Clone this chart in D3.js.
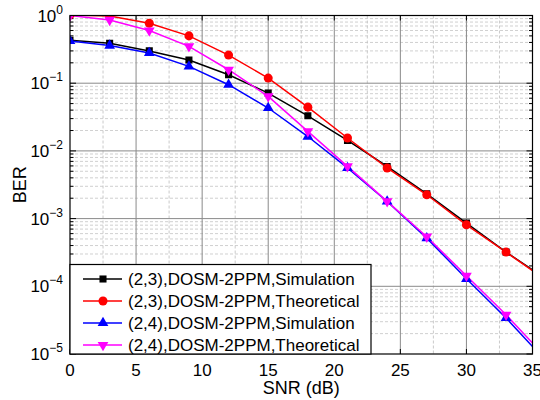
<!DOCTYPE html>
<html>
<head>
<meta charset="utf-8">
<script src="https://cdn.jsdelivr.net/npm/d3@7"></script>
<style>
  body { margin: 0; background: #fff; }
  text { font-family: "Liberation Sans", Arial, sans-serif; }
</style>
</head>
<body>
<div id="wrapper"></div>
<script>
// data
const snr = [0, 3, 6, 9, 12, 15, 18, 21, 24, 27, 30, 33, 35]
const sim23 = [0.43, 0.39, 0.30, 0.22, 0.133, 0.0714, 0.033, 0.0143, 0.0059, 0.00232, 8.6e-4, 3.2e-4, 1.75e-4]
const theo23 = [1.02, 0.98, 0.77, 0.50, 0.26, 0.119, 0.0443, 0.0155, 0.0056, 0.00225, 8.1e-4, 3.2e-4, 1.7e-4]
const sim24 = [0.42, 0.36, 0.28, 0.177, 0.095, 0.043, 0.0163, 0.0056, 0.00179, 5.15e-4, 1.29e-4, 3.4e-5, 1.29e-5]
const theo24 = [1.0, 0.86, 0.60, 0.35, 0.158, 0.064, 0.0194, 0.0059, 0.0018, 5.4e-4, 1.43e-4, 3.8e-5, 1.45e-5]
const seriesNames = ["(2,3),DOSM-2PPM,Simulation", "(2,3),DOSM-2PPM,Theoretical",
                     "(2,4),DOSM-2PPM,Simulation", "(2,4),DOSM-2PPM,Theoretical"]
const xTicks = [0, 5, 10, 15, 20, 25, 30, 35]
const yExps = [0, -1, -2, -3, -4, -5]

const series = [
  { name: seriesNames[0], values: sim23, color: "#000000", symbol: d3.symbolSquare, size: 50, rot: 0 },
  { name: seriesNames[1], values: theo23, color: "#ff0000", symbol: d3.symbolCircle, size: 64, rot: 0 },
  { name: seriesNames[2], values: sim24, color: "#0000ff", symbol: d3.symbolTriangle, size: 50, rot: 0 },
  { name: seriesNames[3], values: theo24, color: "#ff00ff", symbol: d3.symbolTriangle, size: 50, rot: 180 },
]

const dimensions = {
  width: 540,
  height: 400,
  margin: { top: 15.5, right: 7.5, bottom: 46, left: 70 },
}
dimensions.boundedWidth = dimensions.width - dimensions.margin.left - dimensions.margin.right
dimensions.boundedHeight = dimensions.height - dimensions.margin.top - dimensions.margin.bottom

const svg = d3.select("#wrapper").append("svg")
  .attr("width", dimensions.width)
  .attr("height", dimensions.height)

const bounds = svg.append("g")
  .attr("transform", `translate(${dimensions.margin.left},${dimensions.margin.top})`)

const xScale = d3.scaleLinear().domain([0, 35]).range([0, dimensions.boundedWidth])
const yScale = d3.scaleLog().domain([1e-5, 1]).range([dimensions.boundedHeight, 0])

// grid
const minorX = d3.range(2.5, 35, 5)
bounds.append("g").selectAll("line").data(minorX).join("line")
  .attr("x1", d => xScale(d)).attr("x2", d => xScale(d))
  .attr("y1", 0).attr("y2", dimensions.boundedHeight)
  .attr("stroke", "#bdbdbd").attr("stroke-dasharray", "3,2").attr("stroke-width", 0.8)

const minorY = []
yExps.slice(1).forEach(e => { for (let m = 2; m <= 9; m++) minorY.push(m * Math.pow(10, e)) })
bounds.append("g").selectAll("line").data(minorY).join("line")
  .attr("x1", 0).attr("x2", dimensions.boundedWidth)
  .attr("y1", d => yScale(d)).attr("y2", d => yScale(d))
  .attr("stroke", "#c4c4c4").attr("stroke-dasharray", "3,2").attr("stroke-width", 0.8)

bounds.append("g").selectAll("line").data(xTicks.slice(1, -1)).join("line")
  .attr("x1", d => xScale(d)).attr("x2", d => xScale(d))
  .attr("y1", 0).attr("y2", dimensions.boundedHeight)
  .attr("stroke", "#8a8a8a").attr("stroke-width", 1)

bounds.append("g").selectAll("line").data(yExps.slice(1, -1)).join("line")
  .attr("x1", 0).attr("x2", dimensions.boundedWidth)
  .attr("y1", d => yScale(Math.pow(10, d))).attr("y2", d => yScale(Math.pow(10, d)))
  .attr("stroke", "#8a8a8a").attr("stroke-width", 1)

// inward ticks
const tickG = bounds.append("g").attr("stroke", "#000")
xTicks.forEach(t => {
  tickG.append("line").attr("x1", xScale(t)).attr("x2", xScale(t))
    .attr("y1", dimensions.boundedHeight).attr("y2", dimensions.boundedHeight - 5)
  tickG.append("line").attr("x1", xScale(t)).attr("x2", xScale(t))
    .attr("y1", 0).attr("y2", 5)
})
yExps.forEach(e => {
  const y = yScale(Math.pow(10, e))
  tickG.append("line").attr("x1", 0).attr("x2", 6).attr("y1", y).attr("y2", y)
  tickG.append("line").attr("x1", dimensions.boundedWidth).attr("x2", dimensions.boundedWidth - 6).attr("y1", y).attr("y2", y)
})
minorY.forEach(v => {
  const y = yScale(v)
  tickG.append("line").attr("x1", 0).attr("x2", 3.5).attr("y1", y).attr("y2", y)
  tickG.append("line").attr("x1", dimensions.boundedWidth).attr("x2", dimensions.boundedWidth - 3.5).attr("y1", y).attr("y2", y)
})

// clip
svg.append("defs").append("clipPath").attr("id", "clip")
  .append("rect").attr("width", dimensions.boundedWidth).attr("height", dimensions.boundedHeight)

// lines and markers
const line = d3.line()
  .x((d, i) => xScale(snr[i]))
  .y(d => yScale(d))

const plot = bounds.append("g").attr("clip-path", "url(#clip)")
series.forEach(s => {
  plot.append("path")
    .attr("d", line(s.values))
    .attr("fill", "none")
    .attr("stroke", s.color)
    .attr("stroke-width", 1.5)
})
series.forEach(s => {
  plot.append("g").selectAll("path").data(s.values.slice(0, -1)).join("path")
    .attr("d", d3.symbol().type(s.symbol).size(s.size))
    .attr("transform", (d, i) => `translate(${xScale(snr[i])},${yScale(d)}) rotate(${s.rot})`)
    .attr("fill", s.color)
})

// frame
bounds.append("rect")
  .attr("width", dimensions.boundedWidth).attr("height", dimensions.boundedHeight)
  .attr("fill", "none").attr("stroke", "#000").attr("stroke-width", 1.2)

// tick labels
bounds.append("g").selectAll("text").data(xTicks).join("text")
  .attr("x", d => xScale(d))
  .attr("y", dimensions.boundedHeight + 22)
  .attr("text-anchor", "middle")
  .attr("font-size", 17)
  .text(d => d)

const yLab = bounds.append("g").selectAll("text").data(yExps).join("text")
  .attr("x", -7)
  .attr("y", d => yScale(Math.pow(10, d)) + 6)
  .attr("text-anchor", "end")
  .attr("font-size", 17)
yLab.append("tspan").text("10")
yLab.append("tspan").attr("dy", -8).attr("font-size", 12).text(d => d === 0 ? "0" : "\u2212" + (-d))

svg.append("text")
  .attr("x", dimensions.margin.left + dimensions.boundedWidth / 2)
  .attr("y", 394)
  .attr("text-anchor", "middle")
  .attr("font-size", 18)
  .text("SNR (dB)")

svg.append("text")
  .attr("transform", `translate(26,${dimensions.margin.top + dimensions.boundedHeight / 2}) rotate(-90)`)
  .attr("text-anchor", "middle")
  .attr("font-size", 18)
  .text("BER")

// legend
const legend = bounds.append("g")
legend.append("rect")
  .attr("x", 0).attr("y", 249)
  .attr("width", 301).attr("height", dimensions.boundedHeight - 249)
  .attr("fill", "#fff").attr("stroke", "#000").attr("stroke-width", 1.2)
series.forEach((s, i) => {
  const y = 263.5 + i * 22
  legend.append("line").attr("x1", 13).attr("x2", 52).attr("y1", y).attr("y2", y)
    .attr("stroke", s.color).attr("stroke-width", 1.5)
  legend.append("path")
    .attr("d", d3.symbol().type(s.symbol).size(s.size))
    .attr("transform", `translate(33,${y}) rotate(${s.rot})`)
    .attr("fill", s.color)
  legend.append("text").attr("x", 58).attr("y", y + 6)
    .attr("font-size", 17).text(s.name)
})
</script>
</body>
</html>
